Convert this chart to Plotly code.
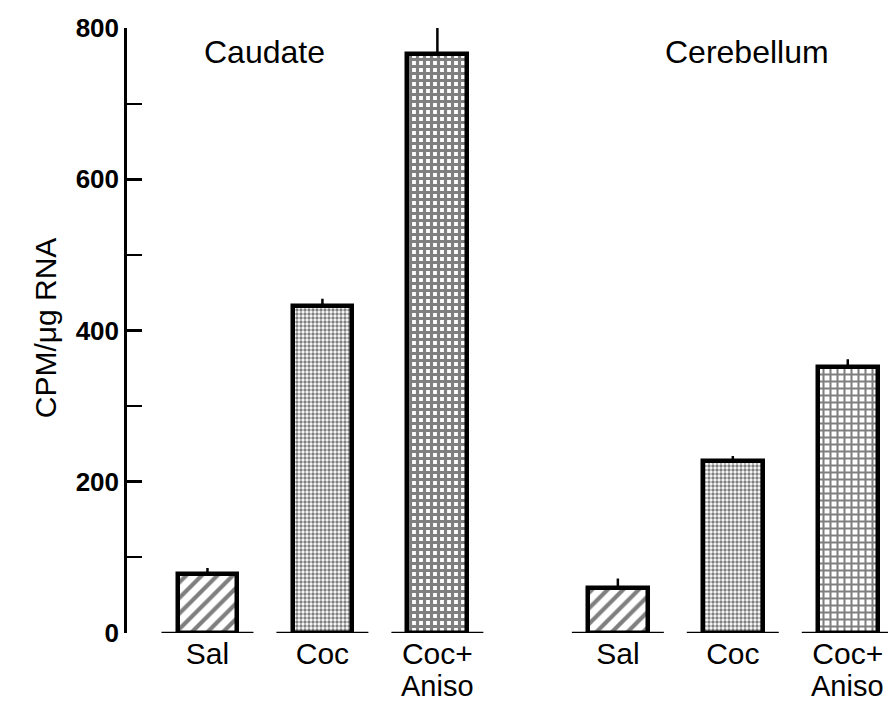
import plotly.graph_objects as go

# Regions and treatments
regions = ["Caudate", "Cerebellum"]
treatments = ["Sal", "Coc", "Coc+"]
treatment_sublabels = ["", "", "Aniso"]

# CPM per microgram RNA, one list per treatment: [Caudate, Cerebellum]
sal_values = [78, 60]
coc_values = [432, 228]
aniso_values = [765, 352]

# Upper error (SEM)
sal_err = [8, 12]
coc_err = [10, 6]
aniso_err = [42, 10]

y_ticks = [0, 200, 400, 600, 800]

group_offset = 3.57
bar_width = 0.52
base_half = 0.40

font_family = "Liberation Sans, Arial, Helvetica, sans-serif"

series = [
    (sal_values, sal_err, dict(shape="/", size=11, solidity=0.38, fgcolor="black", bgcolor="white")),
    (coc_values, coc_err, dict(shape=".", size=4, solidity=0.55, fgcolor="black", bgcolor="white")),
    (aniso_values, aniso_err, dict(shape="+", size=[7, 7], solidity=[0.7, 0.5], fgcolor="black", bgcolor="white")),
]

fig = go.Figure()
positions = []
labels = []
for t_idx, (vals, errs, pattern) in enumerate(series):
    xs = [g * group_offset + t_idx for g in range(len(regions))]
    positions.extend(xs)
    labels.extend([(x, t_idx) for x in xs])
    fig.add_trace(go.Bar(
        x=xs, y=vals, width=bar_width,
        marker=dict(color="white", line=dict(color="black", width=4.5), pattern=pattern),
        error_y=dict(type="data", symmetric=False, array=errs, arrayminus=[0] * len(errs),
                     width=0, thickness=2.5, color="black"),
        cliponaxis=False,
        showlegend=False,
    ))

# Short baseline segment under each bar
for x in positions:
    fig.add_shape(type="line", xref="x", yref="y", x0=x - base_half, x1=x + base_half,
                  y0=0, y1=0, line=dict(color="black", width=2.5), layer="below")

labels.sort()
tickvals = [x for x, _ in labels]
ticktext = [treatments[t] for _, t in labels]

# Second line of the combined-treatment labels
for x, t in labels:
    if treatment_sublabels[t]:
        fig.add_annotation(x=x, y=0, xref="x", yref="paper", yanchor="top",
                           text=treatment_sublabels[t], showarrow=False, yshift=-35,
                           font=dict(family=font_family, size=29, color="black"))

# Region titles
title_pos = {"Caudate": 0.50, "Cerebellum": group_offset + 1.12}
for name in regions:
    fig.add_annotation(x=title_pos[name], y=1.0, xref="x", yref="paper", yanchor="middle",
                       text=name, showarrow=False, yshift=-24,
                       font=dict(family=font_family, size=32, color="black"))

fig.add_annotation(x=-0.131, y=0.505, xref="paper", yref="paper", text="CPM/\u03bcg RNA",
                   textangle=-90, showarrow=False,
                   font=dict(family=font_family, size=30, color="black"))

fig.update_layout(
    width=888, height=705,
    margin=dict(l=127, r=0, t=28, b=72),
    plot_bgcolor="white", paper_bgcolor="white",
    bargap=0,
    font=dict(family=font_family, color="black"),
    xaxis=dict(range=[-0.70, 5.92], showgrid=False, zeroline=False, showline=False,
               tickvals=tickvals, ticktext=ticktext, ticks="", ticklen=0,
               tickfont=dict(size=30, family=font_family, color="black")),
    yaxis=dict(range=[0, 800], tickvals=y_ticks, showgrid=False, zeroline=False,
               showline=True, linecolor="black", linewidth=2.5,
               ticks="inside", ticklen=15, tickwidth=2.5, tickcolor="black",
               minor=dict(dtick=100, tick0=0, ticks="inside", ticklen=15, tickwidth=2, tickcolor="black"),
               tickfont=dict(size=26, family=font_family, color="black", weight="bold"),
               ticklabelstandoff=0),
)

fig.write_html("out.html")
